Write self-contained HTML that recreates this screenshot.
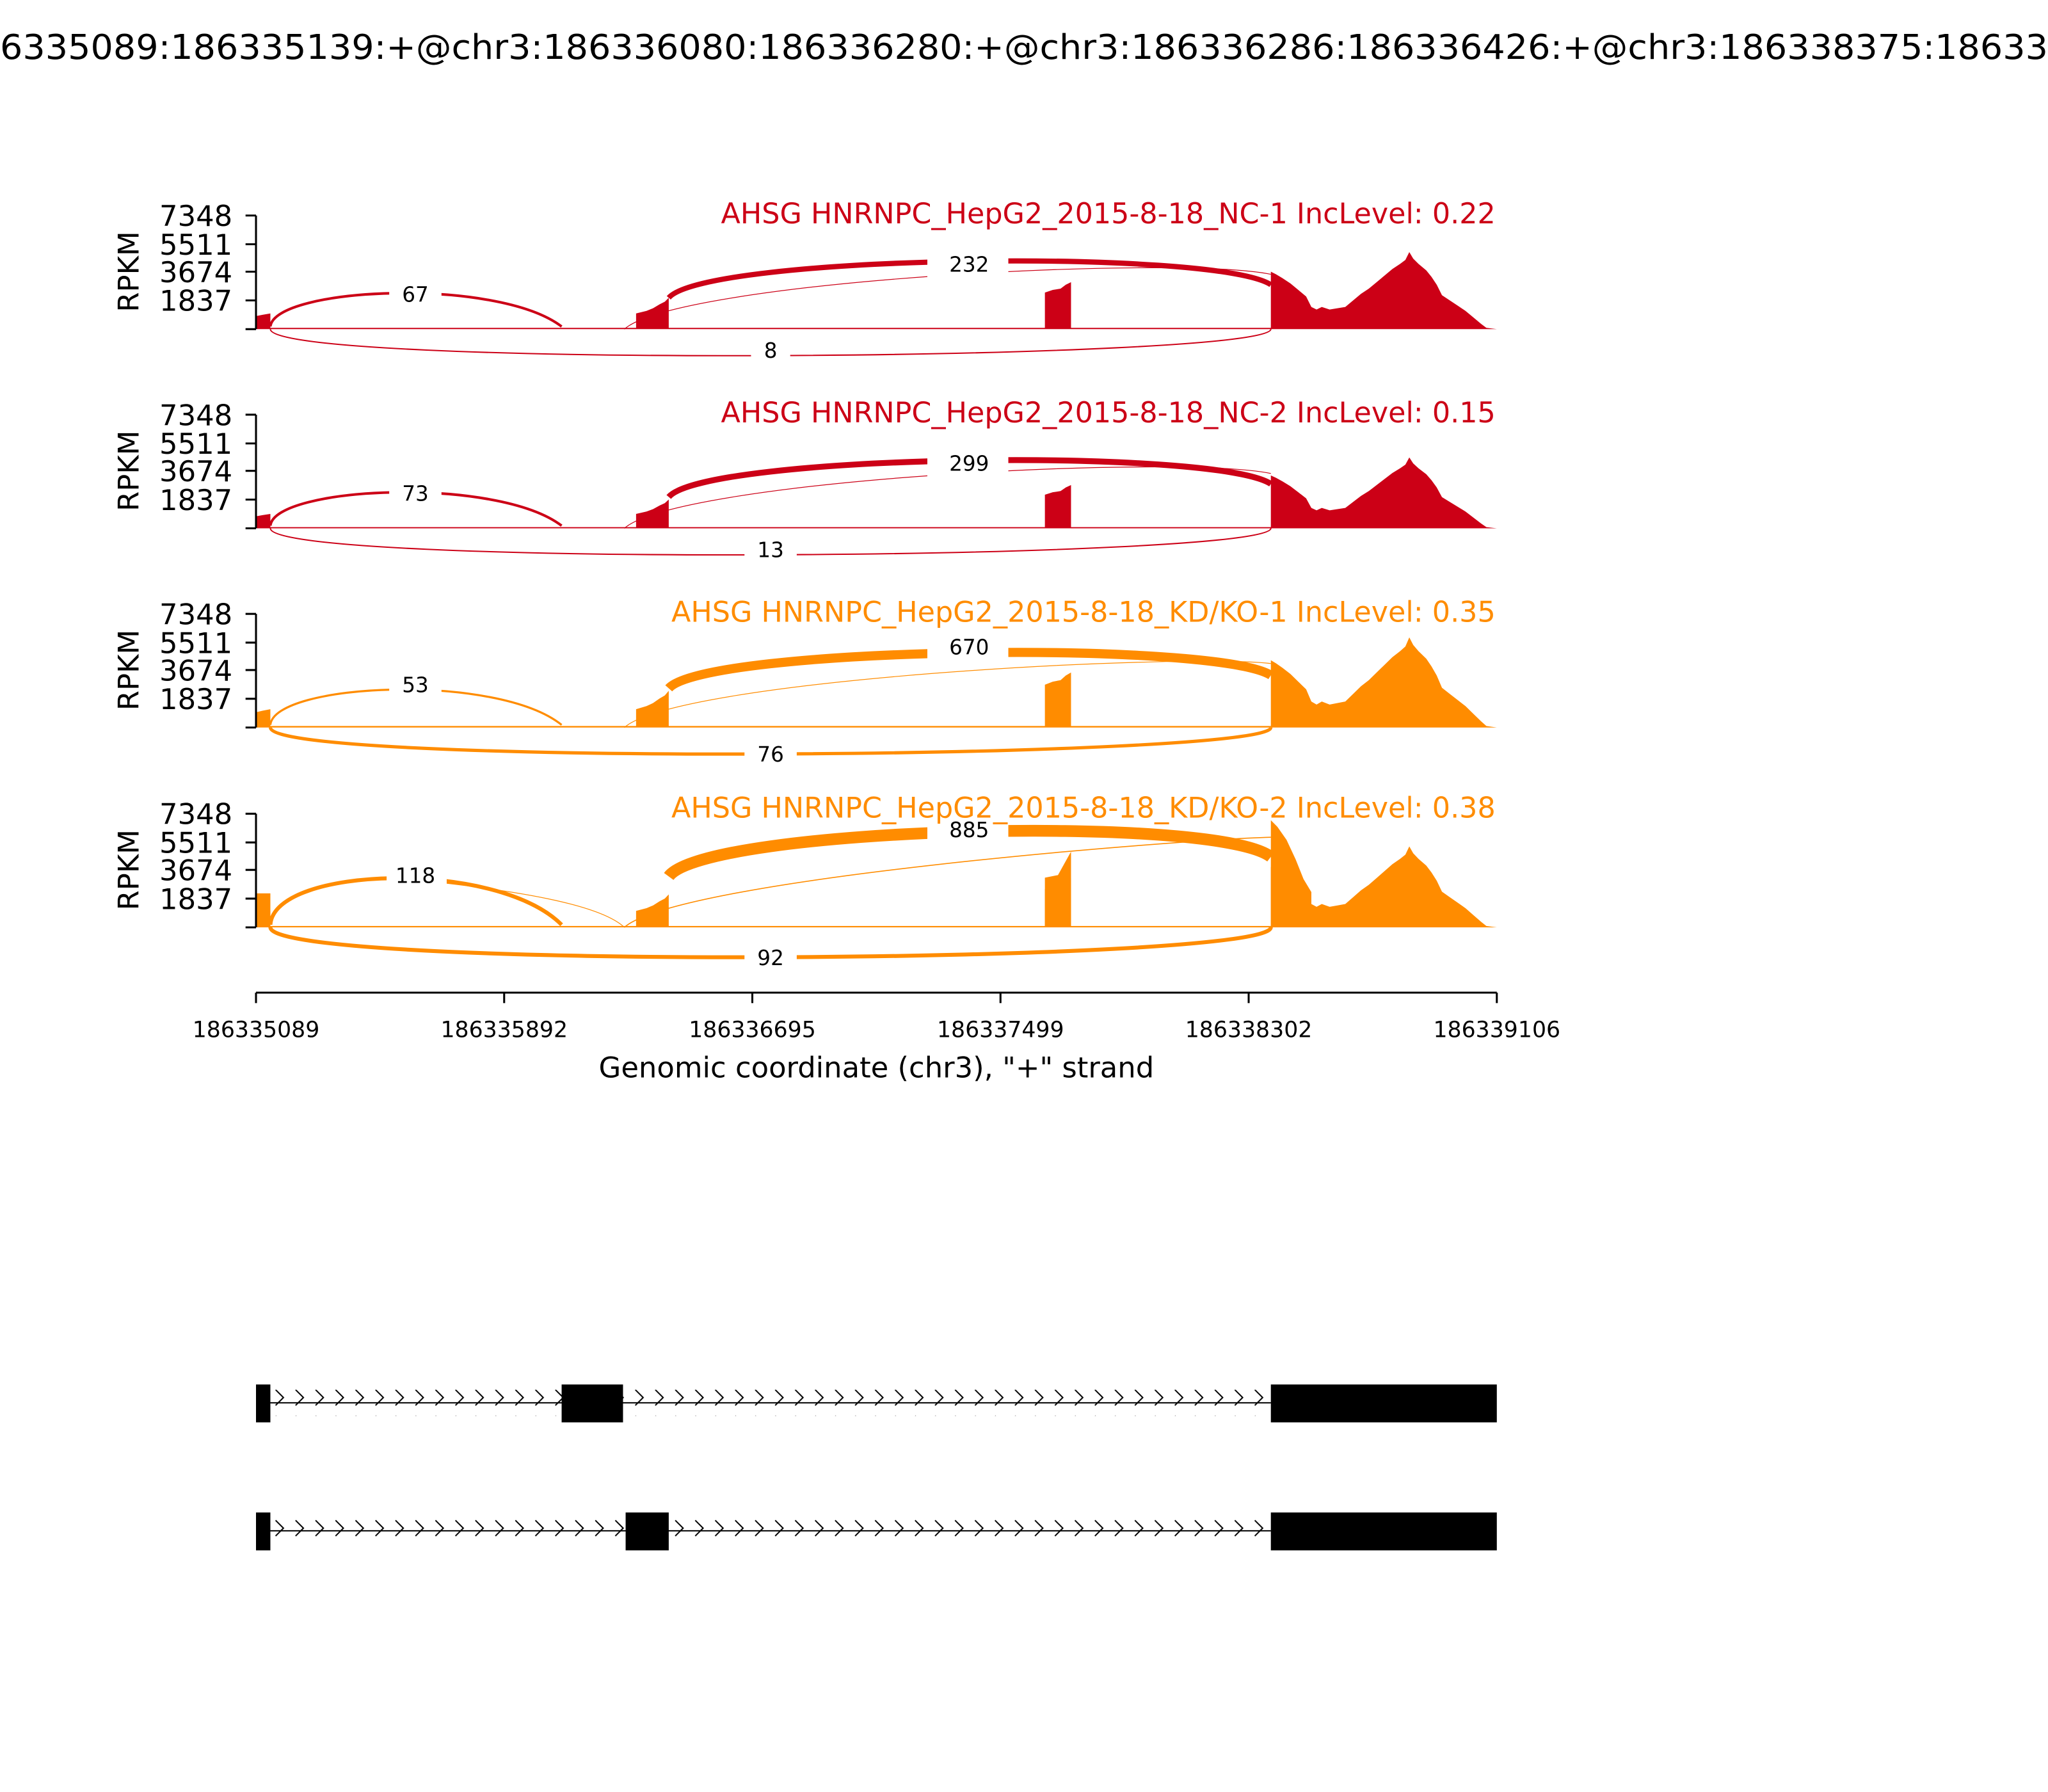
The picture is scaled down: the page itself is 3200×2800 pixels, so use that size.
<!DOCTYPE html>
<html><head><meta charset="utf-8"><style>html,body{margin:0;padding:0;background:#fff}svg{display:block}</style></head>
<body>
<svg width="3200" height="2800" viewBox="0 0 1568 1372" xmlns="http://www.w3.org/2000/svg" font-family="DejaVu Sans, Liberation Sans, sans-serif">
<defs>
<path id="cov" d="M196,0 L196,-10 L201,-11 L207,-12 L207,-1 L487,-1 L487,-12 L495,-14 L500,-16 L505,-19 L509,-21 L512,-24 L512,-1 L800,-1 L800,-28 L806,-30 L812,-31 L816,-34 L820,-36 L820,-1 L973,-1 L973,-44 L977,-42 L982,-39 L988,-35 L994,-30 L1000,-25 L1004,-17 L1008,-15 L1012,-17 L1018,-15 L1024,-16 L1030,-17 L1036,-22 L1042,-27 L1048,-31 L1054,-36 L1060,-41 L1066,-46 L1072,-50 L1076,-53 L1079,-59 L1082,-54 L1086,-50 L1092,-45 L1096,-40 L1100,-34 L1104,-26 L1110,-22 L1116,-18 L1122,-14 L1128,-9 L1134,-4 L1138,-1 L1146,0 Z"/>
<pattern id="chev" x="207" y="0" width="15.3" height="20" patternUnits="userSpaceOnUse">
<polyline points="4,4 10,10 4,16" fill="none" stroke="#000" stroke-width="1"/>
</pattern>
</defs>
<rect width="1568" height="1372" fill="#fff"/>
<text x="0" y="45" font-size="26" textLength="1568" lengthAdjust="spacingAndGlyphs">6335089:186335139:+@chr3:186336080:186336280:+@chr3:186336286:186336426:+@chr3:186338375:18633</text>

<!-- Panel 1 -->
<g>
<use href="#cov" transform="translate(0,252)" fill="#cc0016"/>
<g fill="none" stroke="#cc0016">
<path d="M207,250 C210,220 380,212 430,250" stroke-width="2"/>
<path d="M512,228 C540,195 930,190 973,218" stroke-width="4"/>
<path d="M478,252 C520,215 900,195 973,210" stroke-width="0.6"/>
<path d="M207,252 C207,282 973,276 973,252" stroke-width="1"/>
</g>
<g stroke="#000" stroke-width="1.5">
<line x1="196" y1="165" x2="196" y2="252"/>
<line x1="188" y1="165" x2="196" y2="165"/><line x1="188" y1="187" x2="196" y2="187"/><line x1="188" y1="208" x2="196" y2="208"/><line x1="188" y1="230" x2="196" y2="230"/><line x1="188" y1="252" x2="196" y2="252"/>
</g>
<g font-size="22" text-anchor="end"><text x="178" y="173">7348</text><text x="178" y="195">5511</text><text x="178" y="216">3674</text><text x="178" y="238">1837</text></g>
<text transform="translate(106,208) rotate(-90)" font-size="22" text-anchor="middle">RPKM</text>
<g font-size="16" text-anchor="middle">
<rect x="298" y="215" width="40" height="22" fill="#fff"/><text x="318" y="231">67</text>
<rect x="710" y="192" width="62" height="22" fill="#fff"/><text x="742" y="208">232</text>
<rect x="575" y="258" width="30" height="22" fill="#fff"/><text x="590" y="274">8</text>
</g>
<text x="1145" y="171" font-size="22" text-anchor="end" fill="#cc0016" textLength="593" lengthAdjust="spacingAndGlyphs">AHSG HNRNPC_HepG2_2015-8-18_NC-1 IncLevel: 0.22</text>
</g>

<!-- Panel 2 -->
<g transform="translate(0,152.5)">
<use href="#cov" transform="translate(0,252) scale(1,0.92)" fill="#cc0016"/>
<g fill="none" stroke="#cc0016">
<path d="M207,250 C210,220 380,212 430,250" stroke-width="2"/>
<path d="M512,228 C540,195 930,190 973,218" stroke-width="4.5"/>
<path d="M478,252 C520,215 900,195 973,210" stroke-width="0.6"/>
<path d="M207,252 C207,282 973,276 973,252" stroke-width="1"/>
</g>
<g stroke="#000" stroke-width="1.5">
<line x1="196" y1="165" x2="196" y2="252"/>
<line x1="188" y1="165" x2="196" y2="165"/><line x1="188" y1="187" x2="196" y2="187"/><line x1="188" y1="208" x2="196" y2="208"/><line x1="188" y1="230" x2="196" y2="230"/><line x1="188" y1="252" x2="196" y2="252"/>
</g>
<g font-size="22" text-anchor="end"><text x="178" y="173">7348</text><text x="178" y="195">5511</text><text x="178" y="216">3674</text><text x="178" y="238">1837</text></g>
<text transform="translate(106,208) rotate(-90)" font-size="22" text-anchor="middle">RPKM</text>
<g font-size="16" text-anchor="middle">
<rect x="298" y="215" width="40" height="22" fill="#fff"/><text x="318" y="231">73</text>
<rect x="710" y="192" width="62" height="22" fill="#fff"/><text x="742" y="208">299</text>
<rect x="570" y="258" width="40" height="22" fill="#fff"/><text x="590" y="274">13</text>
</g>
<text x="1145" y="171" font-size="22" text-anchor="end" fill="#cc0016" textLength="593" lengthAdjust="spacingAndGlyphs">AHSG HNRNPC_HepG2_2015-8-18_NC-2 IncLevel: 0.15</text>
</g>

<!-- Panel 3 -->
<g transform="translate(0,305)">
<use href="#cov" transform="translate(0,252) scale(1,1.17)" fill="#ff8c00"/>
<g fill="none" stroke="#ff8c00">
<path d="M207,250 C210,218 380,210 430,250" stroke-width="1.6"/>
<path d="M512,222 C540,190 930,185 973,212" stroke-width="7"/>
<path d="M478,252 C520,215 900,195 973,203" stroke-width="0.6"/>
<path d="M207,252 C207,282 973,276 973,252" stroke-width="2.5"/>
</g>
<g stroke="#000" stroke-width="1.5">
<line x1="196" y1="165" x2="196" y2="252"/>
<line x1="188" y1="165" x2="196" y2="165"/><line x1="188" y1="187" x2="196" y2="187"/><line x1="188" y1="208" x2="196" y2="208"/><line x1="188" y1="230" x2="196" y2="230"/><line x1="188" y1="252" x2="196" y2="252"/>
</g>
<g font-size="22" text-anchor="end"><text x="178" y="173">7348</text><text x="178" y="195">5511</text><text x="178" y="216">3674</text><text x="178" y="238">1837</text></g>
<text transform="translate(106,208) rotate(-90)" font-size="22" text-anchor="middle">RPKM</text>
<g font-size="16" text-anchor="middle">
<rect x="298" y="209" width="40" height="22" fill="#fff"/><text x="318" y="225">53</text>
<rect x="710" y="180" width="62" height="22" fill="#fff"/><text x="742" y="196">670</text>
<rect x="570" y="262" width="40" height="22" fill="#fff"/><text x="590" y="278">76</text>
</g>
<text x="1145" y="171" font-size="22" text-anchor="end" fill="#ff8c00" textLength="631" lengthAdjust="spacingAndGlyphs">AHSG HNRNPC_HepG2_2015-8-18_KD/KO-1 IncLevel: 0.35</text>
</g>

<!-- Panel 4 -->
<g transform="translate(0,458)">
<use href="#cov" transform="translate(0,252) scale(1,1.05)" fill="#ff8c00"/>
<path d="M973,252 L973,170 L978,175 L985,185 L992,200 L998,215 L1004,225 L1004,252 Z" fill="#ff8c00"/>
<path d="M196,252 L196,226 L207,226 L207,252 Z" fill="#ff8c00"/>
<path d="M800,252 L800,214 L810,212 L820,194 L820,252 Z" fill="#ff8c00"/>
<g fill="none" stroke="#ff8c00">
<path d="M207,250 C210,205 380,200 430,250" stroke-width="3"/>
<path d="M340,218 C400,225 460,235 478,252" stroke-width="0.6"/>
<path d="M512,213 C540,175 930,165 973,198" stroke-width="9"/>
<path d="M478,252 C520,215 900,185 973,183" stroke-width="0.8"/>
<path d="M207,252 C207,285 973,280 973,252" stroke-width="3"/>
</g>
<g stroke="#000" stroke-width="1.5">
<line x1="196" y1="165" x2="196" y2="252"/>
<line x1="188" y1="165" x2="196" y2="165"/><line x1="188" y1="187" x2="196" y2="187"/><line x1="188" y1="208" x2="196" y2="208"/><line x1="188" y1="230" x2="196" y2="230"/><line x1="188" y1="252" x2="196" y2="252"/>
</g>
<g font-size="22" text-anchor="end"><text x="178" y="173">7348</text><text x="178" y="195">5511</text><text x="178" y="216">3674</text><text x="178" y="238">1837</text></g>
<text transform="translate(106,208) rotate(-90)" font-size="22" text-anchor="middle">RPKM</text>
<g font-size="16" text-anchor="middle">
<rect x="296" y="202" width="46" height="22" fill="#fff"/><text x="318" y="218">118</text>
<rect x="710" y="169" width="62" height="18" fill="#fff"/><text x="742" y="183">885</text>
<rect x="716" y="187" width="22" height="14" fill="#fff"/>
<rect x="570" y="265" width="40" height="22" fill="#fff"/><text x="590" y="281">92</text>
</g>
<text x="1145" y="168" font-size="22" text-anchor="end" fill="#ff8c00" textLength="631" lengthAdjust="spacingAndGlyphs">AHSG HNRNPC_HepG2_2015-8-18_KD/KO-2 IncLevel: 0.38</text>
</g>

<!-- X axis -->
<g stroke="#000" stroke-width="1.5">
<line x1="196" y1="760" x2="1146" y2="760"/>
<line x1="196" y1="760" x2="196" y2="768"/><line x1="386" y1="760" x2="386" y2="768"/><line x1="576" y1="760" x2="576" y2="768"/><line x1="766" y1="760" x2="766" y2="768"/><line x1="956" y1="760" x2="956" y2="768"/><line x1="1146" y1="760" x2="1146" y2="768"/>
</g>
<g font-size="17" text-anchor="middle">
<text x="196" y="794">186335089</text><text x="386" y="794">186335892</text><text x="576" y="794">186336695</text><text x="766" y="794">186337499</text><text x="956" y="794">186338302</text><text x="1146" y="794">186339106</text>
</g>
<text x="671" y="825" font-size="22" text-anchor="middle">Genomic coordinate (chr3), "+" strand</text>

<!-- Gene models -->
<rect x="207" y="1064" width="766" height="20" fill="url(#chev)"/>
<line x1="207" y1="1074" x2="973" y2="1074" stroke="#000" stroke-width="1"/>
<rect x="196" y="1060" width="11" height="29" fill="#000"/>
<rect x="430" y="1060" width="47" height="29" fill="#000"/>
<rect x="973" y="1060" width="173" height="29" fill="#000"/>

<rect x="207" y="1162" width="766" height="20" fill="url(#chev)"/>
<line x1="207" y1="1172" x2="973" y2="1172" stroke="#000" stroke-width="1"/>
<rect x="196" y="1158" width="11" height="29" fill="#000"/>
<rect x="479" y="1158" width="33" height="29" fill="#000"/>
<rect x="973" y="1158" width="173" height="29" fill="#000"/>
</svg>
</body></html>
